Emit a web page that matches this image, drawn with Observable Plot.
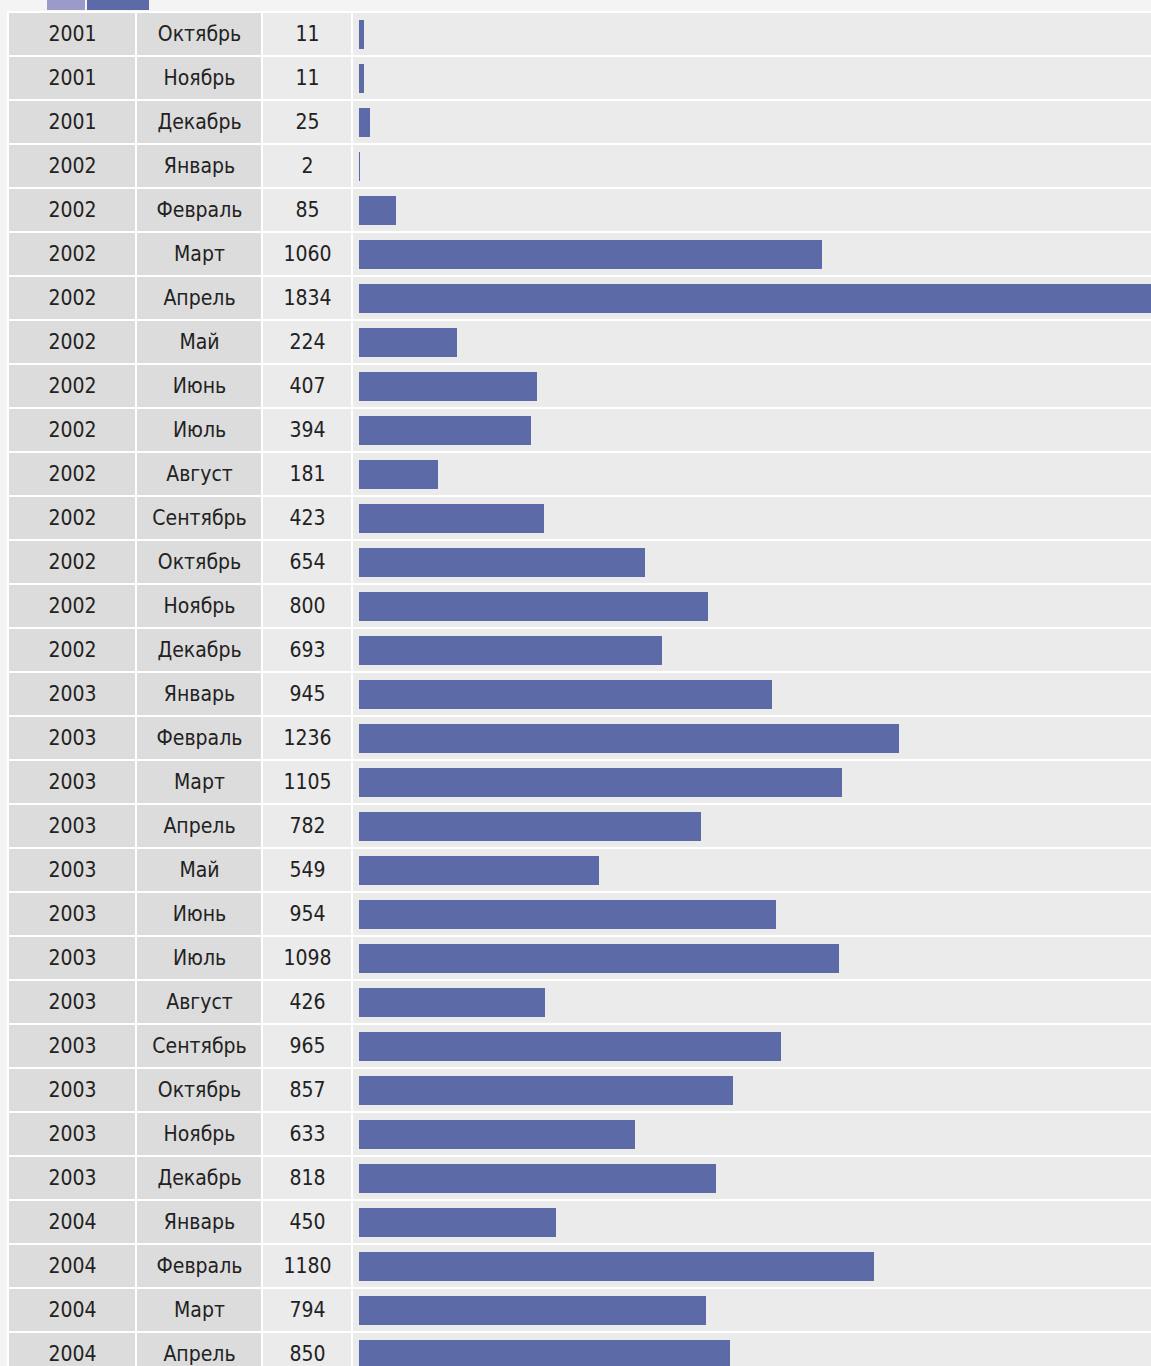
<!DOCTYPE html>
<html>
<head>
<meta charset="utf-8">
<script src="https://cdn.jsdelivr.net/npm/d3@7"></script>
<script src="https://cdn.jsdelivr.net/npm/@observablehq/plot@0.6"></script>
<style>
  html, body { margin: 0; padding: 0; background: #f4f4f4; overflow: hidden; width: 1151px; height: 1366px; }
  #tabs { position: absolute; top: 0; left: 0; height: 11px; }
  .tab { position: absolute; top: 0; height: 10px; }
  #table { position: absolute; top: 11px; left: 7px; right: 0; padding: 2px 0 0 2px; background: #ffffff; display: flex; gap: 2px; overflow: hidden; }
  #table svg { display: block; overflow: hidden; }
</style>
</head>
<body>
<div id="tabs">
  <div class="tab" style="left:47px;width:38px;background:#9a9acb;"></div>
  <div class="tab" style="left:87px;width:62px;background:#5c6aa7;"></div>
</div>
<div id="table"></div>
<script>
const years = [2001, 2001, 2001, 2002, 2002, 2002, 2002, 2002, 2002, 2002, 2002, 2002, 2002, 2002, 2002,
  2003, 2003, 2003, 2003, 2003, 2003, 2003, 2003, 2003, 2003, 2003, 2003, 2004, 2004, 2004, 2004];
const months = ["Октябрь", "Ноябрь", "Декабрь",
  "Январь", "Февраль", "Март", "Апрель", "Май", "Июнь", "Июль", "Август", "Сентябрь", "Октябрь", "Ноябрь", "Декабрь",
  "Январь", "Февраль", "Март", "Апрель", "Май", "Июнь", "Июль", "Август", "Сентябрь", "Октябрь", "Ноябрь", "Декабрь",
  "Январь", "Февраль", "Март", "Апрель"];
const values = [11, 11, 25, 2, 85, 1060, 1834, 224, 407, 394, 181, 423, 654, 800, 693,
  945, 1236, 1105, 782, 549, 954, 1098, 426, 965, 857, 633, 818, 450, 1180, 794, 850];

const rows = values.map((v, i) => ({id: i, year: String(years[i]), month: months[i], value: v, label: String(v)}));
const ids = rows.map(d => d.id);
const rowH = 44;
const H = rows.length * rowH;
const font = "DejaVu Sans Condensed, DejaVu Sans, sans-serif";

function textColumn(width, field, bg) {
  return Plot.plot({
    width, height: H,
    margin: 0,
    style: {background: "transparent", fontFamily: font, fontSize: "21px"},
    y: {type: "band", domain: ids, range: [0, H], padding: 0, axis: null},
    marks: [
      Plot.cell(rows, {y: "id", fill: bg, insetBottom: 2}),
      Plot.text(rows, {y: "id", text: field, fill: "#222222", dy: -1, fontSize: 21})
    ]
  });
}

const table = document.getElementById("table");
table.append(textColumn(126, "year", "#dcdcdc"));
table.append(textColumn(124, "month", "#dcdcdc"));
table.append(textColumn(88, "label", "#ebebeb"));

const barW = 798;
const barPlot = Plot.plot({
  width: barW, height: H,
  margin: 0,
  style: {background: "transparent"},
  x: {domain: [0, 1834], range: [6, 6 + 1834 * 0.4368], axis: null},
  y: {type: "band", domain: ids, range: [0, H], padding: 0, axis: null},
  marks: [
    Plot.cell(rows, {y: "id", fill: "#ebebeb", insetBottom: 2}),
    Plot.barX(rows, {x: "value", y: "id", fill: "#5c6aa7", insetTop: 7, insetBottom: 8, shapeRendering: "crispEdges"})
  ]
});
table.append(barPlot);
</script>
</body>
</html>
